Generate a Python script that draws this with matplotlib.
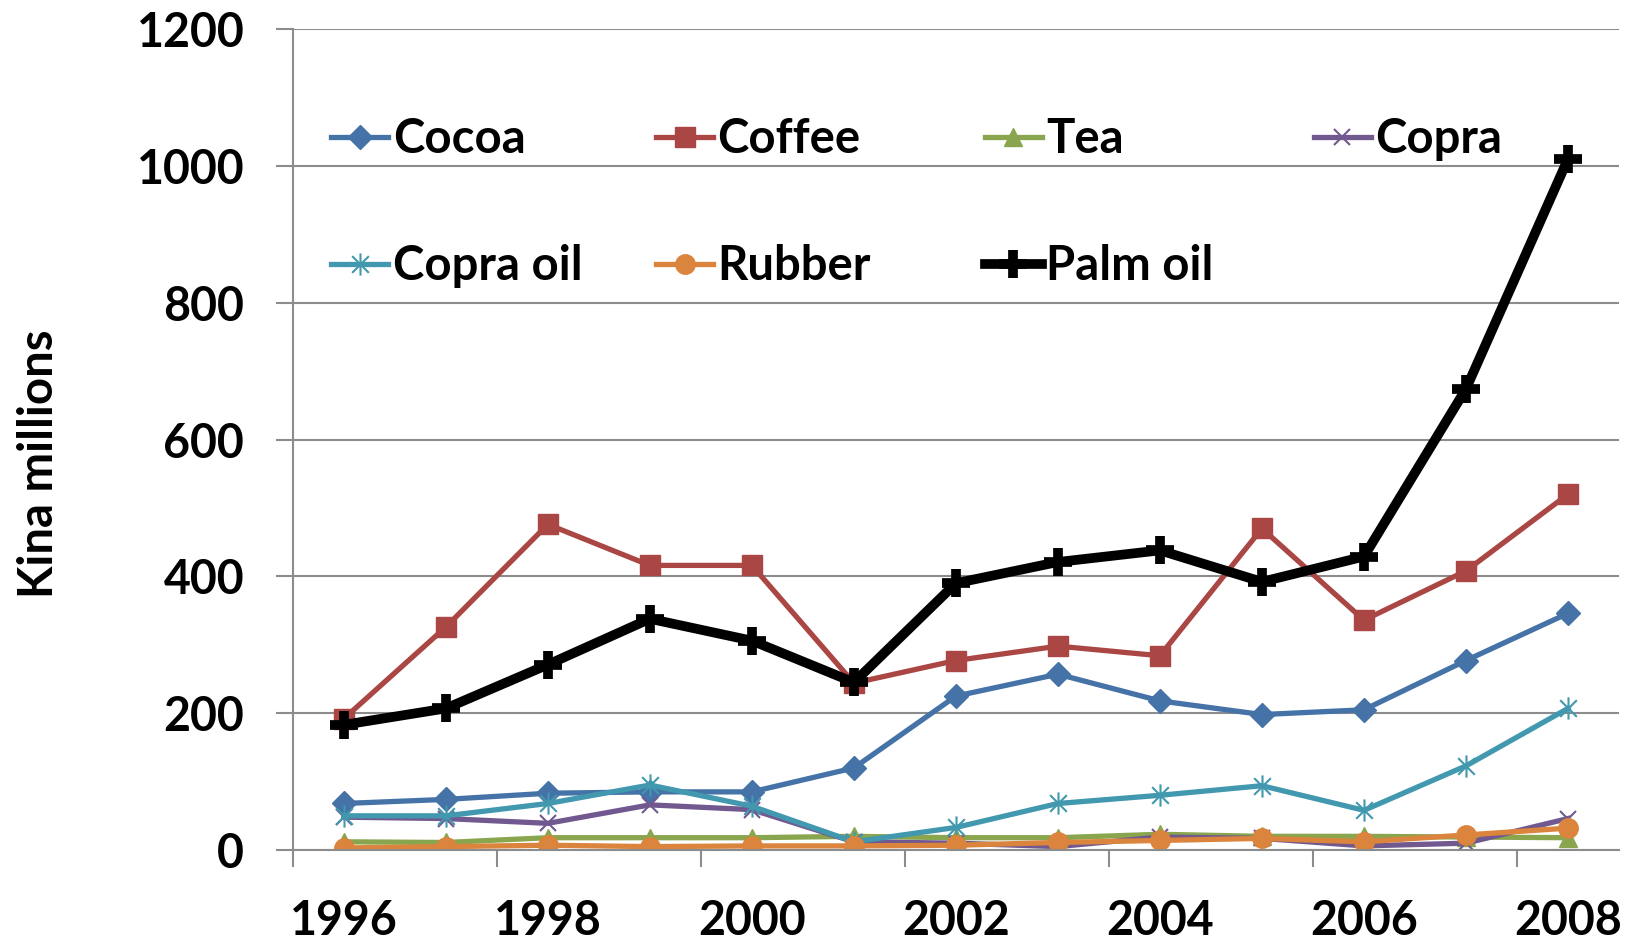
import matplotlib
matplotlib.use("Agg")
import matplotlib.pyplot as plt
import numpy as np
from matplotlib.path import Path

years = ["1996", "1997", "1998", "1999", "2000", "2001", "2002",
         "2003", "2004", "2005", "2006", "2007", "2008"]

cocoa = [68, 74, 83, 85, 85, 120, 225, 257, 218, 198, 205, 277, 346]
coffee = [192, 326, 476, 416, 416, 244, 277, 298, 284, 470, 336, 408, 520]
tea = [12, 11, 18, 18, 18, 20, 18, 18, 23, 20, 20, 19, 18]
copra = [48, 46, 39, 66, 59, 12, 10, 5, 19, 17, 6, 10, 46]
copra_oil = [50, 50, 68, 95, 64, 12, 33, 68, 80, 94, 58, 123, 207]
rubber = [3, 5, 7, 5, 6, 6, 7, 11, 14, 17, 12, 22, 32]
palm_oil = [183, 207, 271, 338, 306, 245, 390, 421, 438, 392, 429, 674, 1010]

# star marker: vertical stroke plus an x
star = Path(
    [(0, -1), (0, 1), (-0.75, -0.75), (0.75, 0.75), (-0.75, 0.75), (0.75, -0.75)],
    [Path.MOVETO, Path.LINETO, Path.MOVETO, Path.LINETO, Path.MOVETO, Path.LINETO],
)

series = [
    ("Cocoa", cocoa, dict(color="#4572A7", marker="D", ms=12, lw=3.8)),
    ("Coffee", coffee, dict(color="#AA4643", marker="s", ms=14, lw=3.8)),
    ("Tea", tea, dict(color="#89A54E", marker="^", ms=13, lw=3.8)),
    ("Copra", copra, dict(color="#71588F", marker="x", ms=12, mew=1.5, lw=3.8)),
    ("Copra oil", copra_oil, dict(color="#4198AF", marker=star, ms=16, mew=1.5, lw=3.8)),
    ("Rubber", rubber, dict(color="#DB843D", marker="o", ms=14, lw=3.8)),
    ("Palm oil", palm_oil, dict(color="black", marker="+", ms=20, mew=7, lw=7)),
]

# legend anchor points (axes fraction) for each entry
legend_pos = [(0.029, 0.866), (0.274, 0.866), (0.522, 0.866), (0.770, 0.866),
              (0.029, 0.711), (0.274, 0.711), (0.522, 0.711)]

plt.rcParams["font.family"] = ["Lato", "DejaVu Sans"]
plt.rcParams["font.weight"] = "bold"

fig = plt.figure(figsize=(16.36, 9.43), dpi=100)
ax = fig.add_axes([0.179, 0.0986, 0.8106, 0.8706])

x = np.arange(len(years))
lines = []
for name, vals, style in series:
    ln, = ax.plot(x, vals, label=name, **style)
    lines.append(ln)

ax.set_xlim(-0.5, len(years) - 0.5)
ax.set_ylim(0, 1200)
ax.set_yticks(np.arange(0, 1201, 200))
ax.yaxis.grid(True, color="#8c8c8c", lw=1.5)
ax.set_axisbelow(True)

ax.set_xticks(x[::2])
ax.set_xticklabels(years[::2])
ax.set_xticks(np.arange(-0.5, len(years) - 1, 2), minor=True)
ax.tick_params(axis="x", which="major", length=0, pad=35, labelsize=33.5)
ax.tick_params(axis="x", which="minor", length=12, width=1.5, color="#8c8c8c")
ax.tick_params(axis="y", length=12, width=1.5, color="#8c8c8c", pad=23, labelsize=33.5)

for side in ("top", "right"):
    ax.spines[side].set_visible(False)
for side in ("left", "bottom"):
    ax.spines[side].set_color("#8c8c8c")
    ax.spines[side].set_linewidth(1.5)

ax.set_ylabel("Kina millions", fontsize=34, fontweight="bold")
ax.yaxis.set_label_coords(-0.175, 0.471)

for i, (ln, pos) in enumerate(zip(lines, legend_pos)):
    leg = ax.legend([ln], [ln.get_label()], loc="center left", bbox_to_anchor=pos,
                    frameon=False, fontsize=34, handlelength=1.2,
                    handletextpad=0.1, borderpad=0, borderaxespad=0)
    if i < len(lines) - 1:
        ax.add_artist(leg)

fig.savefig("out.png", dpi=100)
